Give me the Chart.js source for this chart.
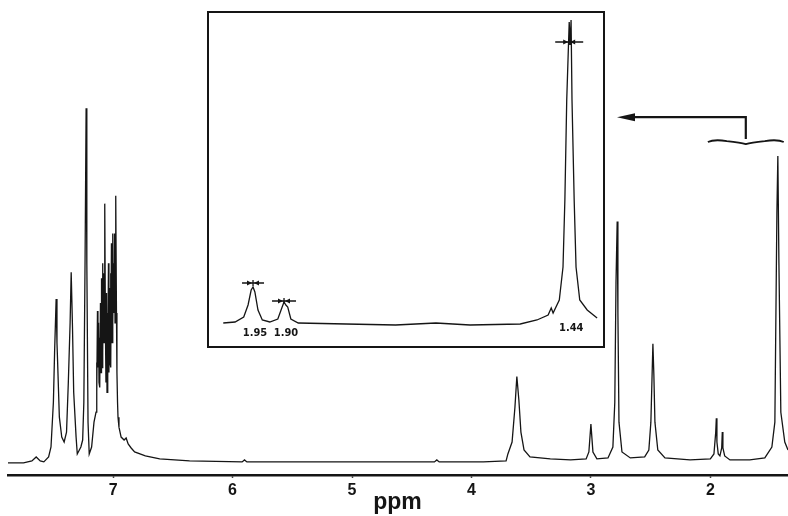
<!DOCTYPE html>
<html>
<head>
<meta charset="utf-8">
<script src="https://cdn.jsdelivr.net/npm/chart.js"></script>
<style>
  html, body { margin: 0; padding: 0; background: #fff; }
  #wrap { position: relative; width: 788px; height: 516px; }
  #inset {
    position: absolute; left: 207px; top: 11px; width: 398px; height: 337px;
    box-sizing: border-box; border: 2px solid #151515; background: #fff;
  }
  canvas { display: block; }
</style>
</head>
<body>
<div id="wrap">
  <canvas id="mainChart" width="788" height="516"></canvas>
  <div id="inset"><canvas id="insetChart" width="394" height="333"></canvas></div>
</div>
<script>
// ---------- DATA ----------
const tickPpm = [7, 6, 5, 4, 3, 2];
const axisTitle = 'ppm';

// full spectrum: chemical shift (ppm) and intensity (arbitrary units)
const specPpm = [
  7.88, 7.75, 7.68, 7.644, 7.61, 7.58, 7.54, 7.52, 7.50, 7.49, 7.477, 7.47, 7.465, 7.45, 7.43, 7.41,
  7.39, 7.375, 7.36, 7.351, 7.34, 7.33, 7.31, 7.30, 7.27, 7.255, 7.245, 7.235, 7.226, 7.22, 7.21, 7.20,
  7.18, 7.16,
  // aromatic multiplet
  7.143, 7.139, 7.135, 7.131, 7.127, 7.122, 7.118, 7.114, 7.110, 7.106, 7.101, 7.097, 7.093, 7.089,
  7.085, 7.081, 7.076, 7.072, 7.068, 7.064, 7.060, 7.055, 7.051, 7.047, 7.043, 7.039, 7.035, 7.030,
  7.026, 7.022, 7.018, 7.014, 7.009, 7.005, 7.001, 6.997, 6.993, 6.988, 6.984, 6.980, 6.976, 6.972,
  6.968, 6.963, 6.959, 6.951,
  6.933, 6.908, 6.891, 6.874, 6.849, 6.82, 6.73, 6.61, 6.36, 5.92, 5.90, 5.88, 5.5, 5.0, 4.5, 4.31, 4.29, 4.27,
  3.9, 3.71, 3.695, 3.66, 3.636, 3.62, 3.603, 3.586, 3.56, 3.51, 3.34, 3.17, 3.04, 3.017, 3.0, 2.983,
  2.95, 2.857, 2.816, 2.80, 2.79, 2.78, 2.774, 2.765, 2.74, 2.67, 2.55, 2.515, 2.498, 2.481, 2.473,
  2.464, 2.44, 2.38, 2.17, 2.0, 1.97, 1.955, 1.95, 1.945, 1.934, 1.92, 1.905, 1.90, 1.895, 1.88,
  1.836, 1.67, 1.544, 1.485, 1.46, 1.443, 1.435, 1.426, 1.41, 1.377, 1.35
];
const specInt = [
  -1, -1, 1, 5, 1, 0, 5, 15, 60, 110, 164, 120, 102, 45, 25, 20,
  30, 80, 140, 191, 135, 70, 25, 8, 15, 22, 60, 200, 356, 200, 40, 8,
  15, 40,
  50, 100, 70, 152, 95, 140, 80, 125, 75, 160, 90, 185, 95, 200,
  110, 190, 120, 215, 260, 130, 80, 170, 70, 150, 85, 200, 90, 175,
  100, 190, 95, 220, 120, 230, 140, 200, 150, 230, 140, 200, 268, 150,
  90, 60, 45, 35,
  25, 22, 24, 18, 14, 10, 6, 3, 1, 0, 2, 0, 0, 0, 0, 0, 2, 0,
  0, 1, 8, 20, 55, 86, 62, 30, 12, 5, 3, 2, 3, 10, 38, 10,
  3, 4, 15, 60, 180, 242, 150, 40, 10, 4, 5, 12, 40, 119, 88,
  40, 12, 4, 2, 3, 8, 30, 44, 20, 8, 6, 14, 30, 14, 6,
  2, 2, 4, 15, 40, 250, 308, 200, 50, 20, 12
];

// expanded region (inset)
const insetPpm = [
  1.998, 1.979, 1.965, 1.958, 1.953, 1.950, 1.947, 1.942, 1.935, 1.923, 1.910, 1.903, 1.900, 1.897,
  1.894, 1.889, 1.877, 1.80, 1.72, 1.655, 1.60, 1.519, 1.492, 1.474, 1.469, 1.466, 1.456, 1.450,
  1.447, 1.444, 1.440, 1.4385, 1.437, 1.4355, 1.432, 1.429, 1.423, 1.411, 1.395
];
const insetInt = [
  2, 3, 8, 20, 35, 38, 33, 15, 5, 3, 6, 18, 23, 20,
  18, 6, 2, 1, 0, 2, 0, 1, 5, 10, 17, 12, 25, 58,
  125, 225, 303, 280, 305, 225, 125, 58, 25, 15, 7
];
const insetLabels = ['1.95', '1.90', '1.44'];
const insetLabelPpm = [1.95, 1.90, 1.44];

const insetMin = 1.3855, insetMax = 2.021;

// ---------- MAIN SPECTRUM ----------
const ink = '#151515';
const font = '"Liberation Sans", Arial, sans-serif';

const braceArrow = {
  id: 'braceArrow',
  afterDraw(chart) {
    const { ctx, scales: { x, y } } = chart;
    const x0 = x.getPixelForValue(insetMax), x1 = x.getPixelForValue(insetMin);
    const xc = (x0 + x1) / 2;
    const yb = y.getPixelForValue(323);
    const ya = y.getPixelForValue(347);
    const tip = 207 + 398 + 12;
    ctx.save();
    ctx.strokeStyle = ink; ctx.fillStyle = ink;
    // brace
    ctx.lineWidth = 1.8;
    ctx.beginPath();
    ctx.moveTo(x0, yb + 1);
    ctx.quadraticCurveTo(x0 + 6, yb - 2, (x0 + xc) / 2, yb);
    ctx.quadraticCurveTo(xc - 5, yb + 1.5, xc, yb + 3);
    ctx.quadraticCurveTo(xc + 5, yb + 1.5, (xc + x1) / 2, yb);
    ctx.quadraticCurveTo(x1 - 6, yb - 2, x1, yb + 1);
    ctx.stroke();
    // arrow
    ctx.lineWidth = 2.2;
    ctx.beginPath();
    ctx.moveTo(xc, yb - 2);
    ctx.lineTo(xc, ya);
    ctx.lineTo(tip + 14, ya);
    ctx.stroke();
    ctx.beginPath();
    ctx.moveTo(tip, ya);
    ctx.lineTo(tip + 18, ya - 4);
    ctx.lineTo(tip + 18, ya + 4);
    ctx.closePath();
    ctx.fill();
    // axis title, set a little right of centre as in the original
    ctx.font = 'bold 23px ' + font;
    ctx.textAlign = 'center';
    ctx.textBaseline = 'alphabetic';
    ctx.fillText(axisTitle, x.getPixelForValue(4.62), 509);
    ctx.restore();
  }
};

new Chart(document.getElementById('mainChart'), {
  type: 'scatter',
  data: {
    datasets: [{
      data: specPpm.map((p, i) => ({ x: p, y: specInt[i] })),
      showLine: true,
      borderColor: ink,
      borderWidth: 1.3,
      pointRadius: 0,
      tension: 0
    }]
  },
  options: {
    responsive: false,
    animation: false,
    layout: { padding: { left: 8, right: 0, top: 0, bottom: 13 } },
    plugins: { legend: { display: false }, tooltip: { enabled: false } },
    scales: {
      x: {
        type: 'linear',
        reverse: true,
        min: 1.35,
        max: 7.88,
        afterBuildTicks: (s) => { s.ticks = tickPpm.map(v => ({ value: v })); },
        grid: { display: true, drawOnChartArea: false, drawTicks: true, tickLength: 3, tickWidth: 1.5, color: ink },
        border: { display: true, width: 2.5, color: ink },
        ticks: {
          color: ink,
          padding: 3,
          maxRotation: 0,
          font: { family: font, size: 16, weight: 'bold', lineHeight: 1.2 }
        }
      },
      y: { display: false, min: -13, max: 465 }
    }
  },
  plugins: [braceArrow]
});

// ---------- INSET ----------
const insetMarks = {
  id: 'insetMarks',
  afterDatasetsDraw(chart) {
    const { ctx, scales: { x, y } } = chart;
    ctx.save();
    ctx.fillStyle = ink; ctx.strokeStyle = ink;
    ctx.font = 'bold 11px "Liberation Sans Narrow", "DejaVu Sans Condensed", sans-serif';
    ctx.textAlign = 'center'; ctx.textBaseline = 'middle';
    const labelDy = [8, 8, 3];
    insetLabels.forEach((t, i) => {
      ctx.fillText(t, x.getPixelForValue(insetLabelPpm[i]) + 2, y.getPixelForValue(0) + labelDy[i]);
    });
    // width markers  ->|<-
    const marks = [
      { p: 1.95, v: 42, half: 11 },
      { p: 1.90, v: 24, half: 12 },
      { p: 1.44, v: 283, half: 14 }
    ];
    ctx.lineWidth = 1.3;
    marks.forEach(m => {
      const cx = x.getPixelForValue(m.p), cy = y.getPixelForValue(m.v);
      ctx.beginPath();
      ctx.moveTo(cx - m.half, cy); ctx.lineTo(cx + m.half, cy);
      ctx.moveTo(cx, cy - 3); ctx.lineTo(cx, cy + 3);
      ctx.stroke();
      [[cx - 1, -1], [cx + 1, 1]].forEach(([ax, d]) => {
        ctx.beginPath();
        ctx.moveTo(ax, cy);
        ctx.lineTo(ax + d * 5, cy - 2.5);
        ctx.lineTo(ax + d * 5, cy + 2.5);
        ctx.closePath();
        ctx.fill();
      });
    });
    ctx.restore();
  }
};

new Chart(document.getElementById('insetChart'), {
  type: 'scatter',
  data: {
    datasets: [{
      data: insetPpm.map((p, i) => ({ x: p, y: insetInt[i] })),
      showLine: true,
      borderColor: ink,
      borderWidth: 1.3,
      pointRadius: 0,
      tension: 0
    }]
  },
  options: {
    responsive: false,
    animation: false,
    layout: { padding: 0 },
    plugins: { legend: { display: false }, tooltip: { enabled: false } },
    scales: {
      x: { type: 'linear', reverse: true, display: false, min: insetMin, max: insetMax },
      y: { display: false, min: -21, max: 312 }
    }
  },
  plugins: [insetMarks]
});
</script>
</body>
</html>
